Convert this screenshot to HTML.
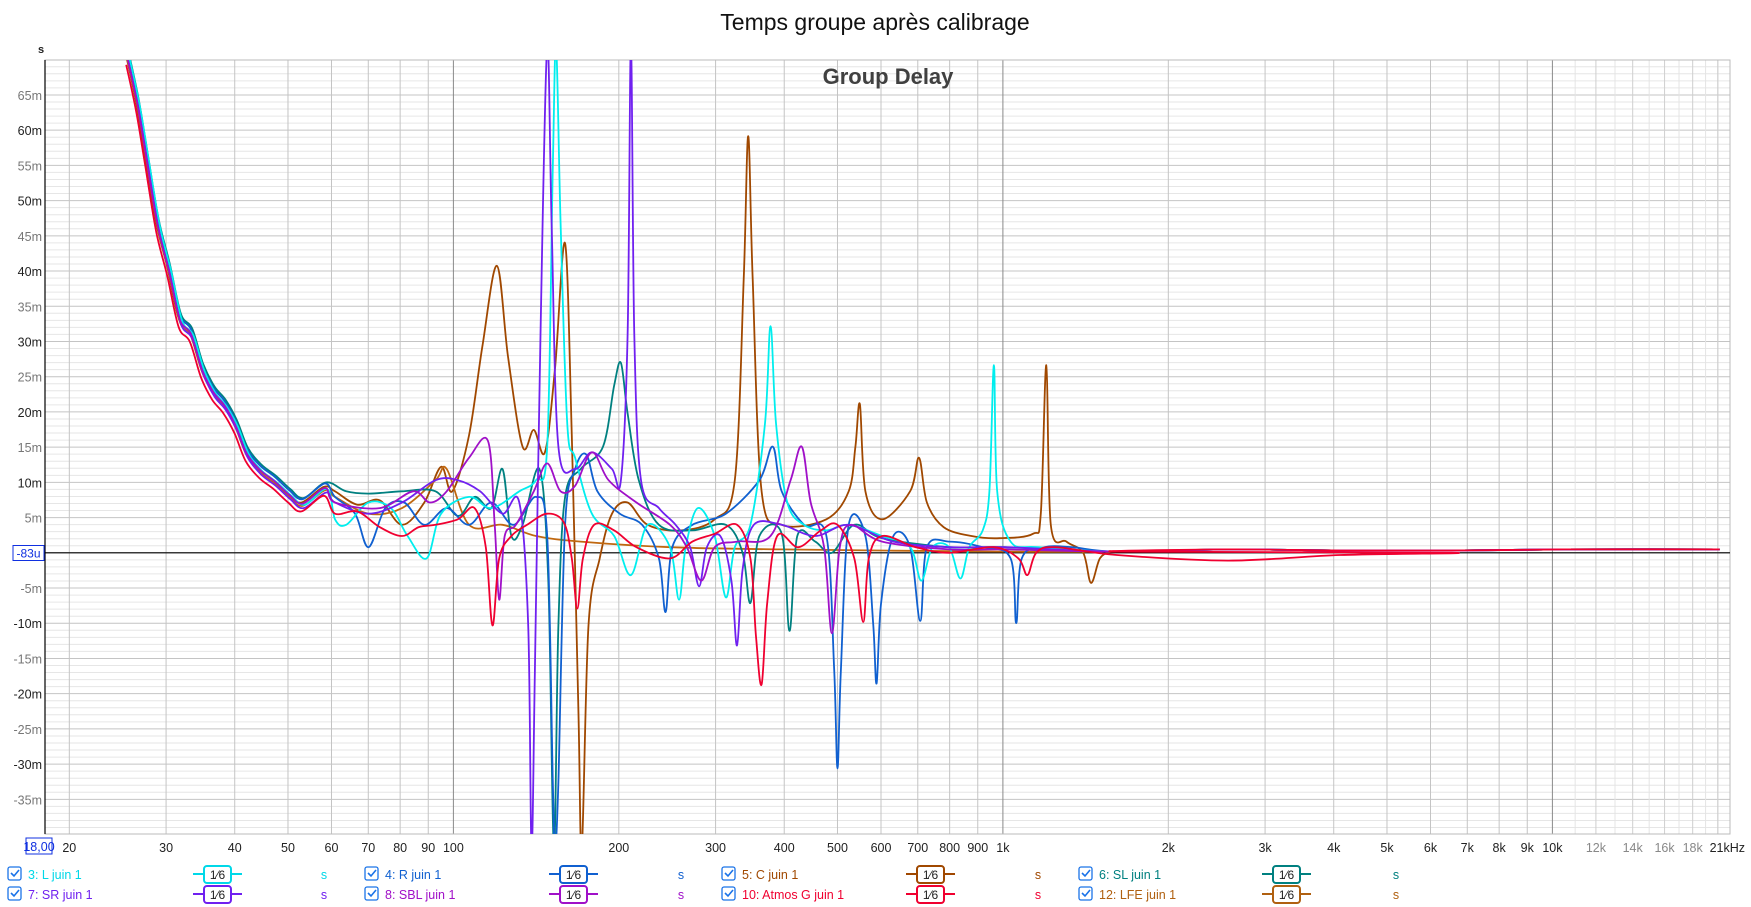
<!DOCTYPE html>
<html><head><meta charset="utf-8"><style>
html,body{margin:0;padding:0;background:#fff;width:1751px;height:907px;overflow:hidden}
svg text{font-family:"Liberation Sans",sans-serif}
</style></head><body>
<svg id="s" width="1751" height="907" xmlns="http://www.w3.org/2000/svg">
<defs><clipPath id="cp"><rect x="45" y="60" width="1685" height="774"/></clipPath></defs>
<rect width="1751" height="907" fill="#fff"/>
<text x="875" y="30" font-size="23" text-anchor="middle" fill="#111">Temps groupe après calibrage</text>
<g id="grid"></g>
<g id="series" clip-path="url(#cp)"></g>
<text x="888" y="84" font-size="22" font-weight="bold" text-anchor="middle" fill="#404040">Group Delay</text>
<g id="labels"></g>
<g id="legend"></g>
</svg>
<script>
const NS="http://www.w3.org/2000/svg";
function el(p,t,a,txt){const e=document.createElementNS(NS,t);for(const k in a)e.setAttribute(k,a[k]);if(txt!=null)e.textContent=txt;p.appendChild(e);return e;}
const L=45,R=1730,T=60,B=834;
const fx=f=>453.4+549.5*Math.log10(f/100);
const fy=m=>552.8-m*7.044;
const g=document.getElementById('grid'),lab=document.getElementById('labels');
// horizontal grid
for(let m=-39;m<=69;m++){
  const y=fy(m);
  el(g,'line',{x1:L,x2:R,y1:y,y2:y,stroke:m%5==0?'#c4c4c4':'#e6e6e6','stroke-width':1});
}
// vertical grid
const vf=[];
for(let d of [10,100,1000,10000])for(let i=1;i<10;i++){const f=d*i;if(f>18&&f<21000)vf.push(f);}
for(let f=11000;f<21000;f+=1000)vf.push(f);
for(const f of vf){
  const x=fx(f);let c='#c4c4c4';
  if(f==100||f==1000||f==10000)c='#8a8a8a';
  else if(f>10000)c=(f%2000==0)?'#cfcfcf':'#e4e4e4';
  el(g,'line',{x1:x,x2:x,y1:T,y2:B,stroke:c,'stroke-width':1});
}
el(g,'rect',{x:L,y:T,width:R-L,height:B-T,fill:'none',stroke:'#bbb','stroke-width':1});
el(g,'line',{x1:L,x2:L,y1:T,y2:B,stroke:'#000','stroke-width':1.2});
// y labels
for(let m=-35;m<=65;m+=5){
  if(m==0)continue;
  el(lab,'text',{x:42,y:fy(m)+5,'font-size':12.5,'text-anchor':'end',fill:(m%10==0)?'#222':'#777'},m+'m');
}
el(lab,'text',{x:41,y:53,'font-size':11,'font-weight':'bold','text-anchor':'middle',fill:'#222'},'s');
el(lab,'rect',{x:13,y:545.5,width:31,height:15,fill:'#fff',stroke:'#1030e0'});
el(lab,'text',{x:28.5,y:557.5,'font-size':12,'text-anchor':'middle',fill:'#1030e0'},'-83u');
el(g,'line',{x1:L,x2:R,y1:552.8,y2:552.8,stroke:'#000','stroke-width':1.2});
// x labels
const xl=[[20,'20'],[30,'30'],[40,'40'],[50,'50'],[60,'60'],[70,'70'],[80,'80'],[90,'90'],[100,'100'],[200,'200'],[300,'300'],[400,'400'],[500,'500'],[600,'600'],[700,'700'],[800,'800'],[900,'900'],[1000,'1k'],[2000,'2k'],[3000,'3k'],[4000,'4k'],[5000,'5k'],[6000,'6k'],[7000,'7k'],[8000,'8k'],[9000,'9k'],[10000,'10k']];
for(const [f,t] of xl)el(lab,'text',{x:fx(f),y:852,'font-size':12.5,'text-anchor':'middle',fill:'#222'},t);
for(const f of [12000,14000,16000,18000])el(lab,'text',{x:fx(f),y:852,'font-size':12.5,'text-anchor':'middle',fill:'#888'},(f/1000)+'k');
el(lab,'text',{x:1745,y:852,'font-size':12.5,'text-anchor':'end',fill:'#222'},'21kHz');
el(lab,'rect',{x:26,y:838,width:26,height:16,fill:'#fff',stroke:'#1030e0'});
el(lab,'text',{x:39,y:851,'font-size':12.5,'text-anchor':'middle',fill:'#1030e0'},'18,00');

// series (points in displayed coords, scaled by S)
const S=1.1167;
const base=[[113,50],[122,92],[130,140],[140,200],[150,240],[160,285],[170,298],[180,330],[190,350],[200,362],[210,380],[220,405],[232,420],[245,430],[258,442],[270,450],[290,436]];
const tail=[[1000,494],[1100,492],[1200,493],[1300,493],[1400,492],[1540,492]];
const S_=[
 {c:'#a04800',p:base.concat([[300,440],[320,452],[340,448],[360,470],[380,450],[395,418],[405,440],[420,390],[432,310],[445,238],[455,320],[468,400],[478,385],[488,405],[497,330],[506,218],[512,390],[518,640],[521,760],[527,560],[537,500],[548,460],[562,450],[580,470],[610,475],[640,465],[658,430],[666,250],[670,122],[674,250],[682,440],[700,470],[740,465],[760,440],[766,400],[770,362],[775,440],[790,465],[815,440],[823,410],[830,450],[845,472],[870,480],[895,482],[925,478],[932,460],[937,327],[941,470],[955,485],[970,495],[977,522],[985,500],[995,494]]).concat(tail)},
 {c:'#c06810',p:base.map(([x,y])=>[x+1,y+3]).concat([[300,445],[330,460],[360,455],[390,430],[400,420],[420,470],[450,470],[480,480],[520,485],[600,490],[700,492],[900,494]]).concat(tail)},
 {c:'#008080',p:base.map(([x,y])=>[x+2,y-4]).concat([[310,440],[330,442],[360,440],[390,440],[410,462],[425,445],[440,455],[450,420],[458,480],[468,470],[483,420],[491,520],[496,760],[500,560],[506,445],[520,420],[540,400],[550,345],[556,325],[562,370],[572,430],[590,470],[620,475],[650,470],[665,495],[672,540],[680,480],[700,478],[707,565],[714,480],[730,485],[745,495],[765,470],[790,482],[850,490],[900,490]]).concat(tail)},
 {c:'#1060d0',p:base.map(([x,y])=>[x+1,y-3]).concat([[300,445],[318,460],[330,490],[345,455],[362,450],[380,470],[400,455],[420,470],[440,450],[460,470],[480,445],[490,480],[495,700],[497,760],[500,700],[506,470],[515,420],[525,407],[535,440],[555,460],[575,470],[590,500],[596,548],[602,490],[620,470],[650,460],[680,430],[692,400],[700,440],[720,470],[740,480],[747,600],[750,688],[753,600],[760,470],[775,480],[782,560],[785,612],[789,540],[800,480],[815,490],[824,556],[830,490],[850,485],[880,490],[905,500],[910,558],[915,500],[935,490],[960,490]]).concat(tail)},
 {c:'#00eeee',p:base.map(([x,y])=>[x+3,y+2]).concat([[300,465],[310,470],[330,450],[350,455],[365,480],[382,500],[395,460],[420,445],[440,455],[465,440],[480,430],[490,400],[495,150],[498,40],[502,200],[508,380],[515,410],[530,460],[550,480],[565,515],[580,470],[600,490],[608,537],[614,490],[625,455],[640,480],[650,535],[658,490],[672,470],[685,380],[690,292],[695,380],[705,450],[720,470],[740,475],[760,470],[790,480],[815,490],[825,520],[835,490],[850,490],[860,518],[868,490],[880,475],[886,440],[890,327],[893,440],[905,485],[930,490]]).concat(tail)},
 {c:'#7020f0',p:base.map(([x,y])=>[x+2,y+5]).concat([[300,450],[330,460],[360,450],[390,430],[410,430],[430,440],[450,460],[465,450],[473,560],[476,760],[479,600],[484,300],[490,40],[494,200],[500,400],[515,420],[530,405],[548,420],[556,430],[562,300],[565,40],[568,300],[574,430],[590,455],[605,470],[618,490],[626,525],[633,490],[645,480],[655,520],[660,578],[665,510],[675,470],[700,470],[730,480],[760,470],[800,485],[850,490],[900,490]]).concat(tail)},
 {c:'#a010c8',p:base.map(([x,y])=>[x+1,y+1]).concat([[300,450],[340,455],[370,440],[385,450],[400,440],[420,410],[437,395],[443,470],[447,537],[452,480],[462,470],[478,440],[490,415],[502,440],[515,435],[530,405],[545,430],[570,450],[600,470],[615,490],[628,520],[640,490],[660,485],[690,480],[708,430],[718,400],[726,450],[738,490],[745,567],[752,490],[762,470],[790,485],[850,492],[900,492]]).concat(tail)},
 {c:'#f00030',p:base.map(([x,y])=>[x,y+8]).concat([[300,460],[320,458],[340,472],[360,480],[375,472],[390,470],[410,465],[425,455],[435,490],[441,560],[447,500],[458,480],[472,470],[490,460],[505,468],[512,500],[517,545],[522,500],[532,470],[550,475],[570,490],[600,500],[620,485],[640,478],[660,470],[672,500],[677,570],[682,613],[687,540],[696,480],[715,490],[735,475],[750,470],[765,500],[773,557],[778,500],[790,480],[820,490],[850,495],[890,490],[912,500],[920,515],[928,495],[945,490],[1000,497],[1100,502],[1200,497],[1300,495]]).concat(tail)}
];
const sg=document.getElementById('series');
function cr(pts){
  let d='M'+pts[0][0].toFixed(1)+' '+pts[0][1].toFixed(1);
  for(let i=0;i<pts.length-1;i++){
    const p0=pts[i-1]||pts[i],p1=pts[i],p2=pts[i+1],p3=pts[i+2]||p2;
    const c1=[p1[0]+(p2[0]-p0[0])/6,p1[1]+(p2[1]-p0[1])/6],c2=[p2[0]-(p3[0]-p1[0])/6,p2[1]-(p3[1]-p1[1])/6];
    d+=`C${c1[0].toFixed(1)} ${c1[1].toFixed(1)} ${c2[0].toFixed(1)} ${c2[1].toFixed(1)} ${p2[0].toFixed(1)} ${p2[1].toFixed(1)}`;
  }
  return d;
}
for(const s of S_){
  const pts=s.p.map(([x,y])=>[x*S,y*S]);
  el(sg,'path',{d:cr(pts),fill:'none',stroke:s.c,'stroke-width':1.8,'stroke-linejoin':'round'});
}
// legend
const lg=document.getElementById('legend');
const items=[
 [0,0,'3: L juin 1','#00d8e8'],[1,0,'4: R juin 1','#1060d0'],[2,0,'5: C juin 1','#a04800'],[3,0,'6: SL juin 1','#008080'],
 [0,1,'7: SR juin 1','#7020f0'],[1,1,'8: SBL juin 1','#a010c8'],[2,1,'10: Atmos G juin 1','#f00030'],[3,1,'12: LFE juin 1','#b06010']];
const cx=[8,365,722,1079],fbx=[196,552,909,1265],sx=[324,681,1038,1396];
for(const [c,r,t,col] of items){
  const y=875+r*20;
  el(lg,'rect',{x:cx[c],y:y-8,width:13,height:13,rx:2,fill:'#fff',stroke:'#1a73e8','stroke-width':1.3});
  el(lg,'path',{d:`M${cx[c]+3} ${y-2} l3 3 l5 -6`,fill:'none',stroke:'#1a73e8','stroke-width':1.6});
  el(lg,'text',{x:cx[c]+20,y:y+4,'font-size':12.5,fill:col},t);
  const b=fbx[c];
  el(lg,'line',{x1:b-3,x2:b+46,y1:y-1,y2:y-1,stroke:col,'stroke-width':2});
  el(lg,'rect',{x:b+8,y:y-9,width:27,height:17,rx:3,fill:'#fff',stroke:col,'stroke-width':2});
  el(lg,'text',{x:b+21.5,y:y+4,'font-size':12,'text-anchor':'middle',fill:'#222'},'1⁄6');
  el(lg,'text',{x:sx[c],y:y+4,'font-size':12.5,'text-anchor':'middle',fill:col},'s');
}
</script>
</body></html>
